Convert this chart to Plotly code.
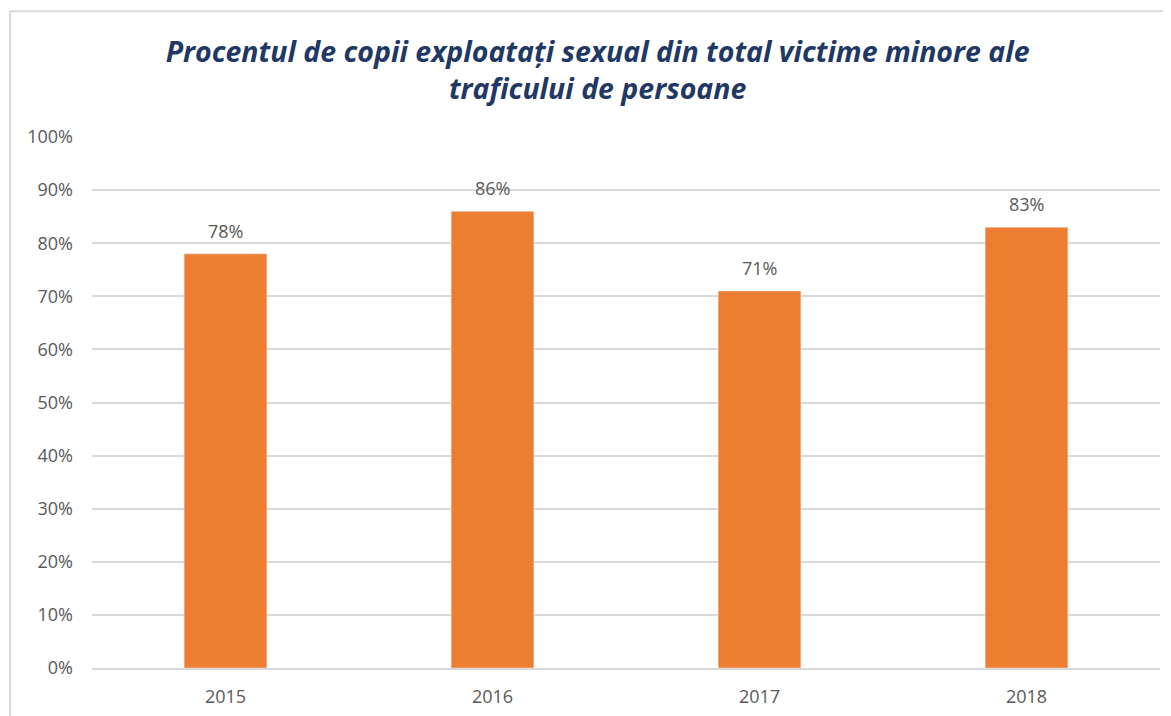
import plotly.graph_objects as go

years = ["2015", "2016", "2017", "2018"]
values = [78, 86, 71, 83]
labels = ["78%", "86%", "71%", "83%"]
tick_vals = [0, 10, 20, 30, 40, 50, 60, 70, 80, 90, 100]
tick_text = ["0%", "10%", "20%", "30%", "40%", "50%", "60%", "70%", "80%", "90%", "100%"]

fig = go.Figure(go.Bar(
    x=years, y=values,
    marker=dict(color="#ED7D31"), width=0.31,
))

# category index positions for the value labels
for i, (v, lab) in enumerate(zip(values, labels)):
    fig.add_annotation(x=i, y=v, text=lab, showarrow=False, yanchor="bottom",
                       yshift=9, font=dict(size=18, color="#595959", family="Open Sans"))

fig.update_layout(
    width=1163, height=708,
    margin=dict(l=84, r=11, t=129, b=48),
    paper_bgcolor="white", plot_bgcolor="white",
    title=dict(
        text="<b><i>Procentul de copii exploatați sexual din total victime minore ale<br>traficului de persoane</i></b>",
        x=0.507, xanchor="center", y=0.924, yanchor="top",
        font=dict(family="Open Sans", size=28.5, color="#1F3864"),
    ),
    font=dict(family="Open Sans", color="#595959"),
    showlegend=False,
)
fig.update_yaxes(range=[0, 100], tickvals=tick_vals, ticktext=tick_text,
                 showgrid=True, gridcolor="#D9D9D9", gridwidth=1.5,
                 zeroline=False, showline=False, tickfont=dict(size=18, color="#595959"),
                 ticks="", ticklabelstandoff=18, automargin=False)
fig.update_xaxes(type="category", range=[-0.5, 3.5], showline=True, linecolor="#D9D9D9", linewidth=1.5,
                 tickfont=dict(size=18, color="#595959"), ticks="", ticklabelstandoff=12,
                 automargin=False)
fig.add_shape(type="rect", xref="paper", yref="paper",
              x0=-0.0768, x1=1.05, y0=-0.2, y1=1.237,
              line=dict(color="#D9D9D9", width=2), fillcolor="rgba(0,0,0,0)", layer="below")

fig.write_html("out.html")
